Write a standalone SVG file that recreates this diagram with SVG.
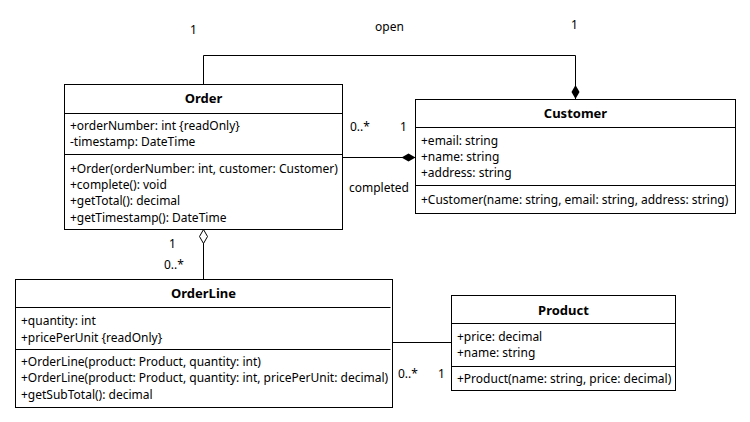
<svg xmlns="http://www.w3.org/2000/svg" width="750" height="422" viewBox="0 0 750 422">
<style>
text{font-family:"Noto Sans","DejaVu Sans",sans-serif;font-size:12px;fill:#000}
.t{font-weight:bold;text-anchor:middle;font-size:13px}
.box{fill:#fff;stroke:#000;stroke-width:1}
.ln{stroke:#000;stroke-width:1;fill:none}
</style>
<defs>
<marker id="fd" markerWidth="16" markerHeight="10" refX="15" refY="5" orient="auto" markerUnits="userSpaceOnUse"><path d="M1,5 L8,1 L15,5 L8,9 Z" fill="#000"/></marker>
<marker id="od" markerWidth="16" markerHeight="10" refX="15" refY="5" orient="auto" markerUnits="userSpaceOnUse"><path d="M1,5 L8,1 L15,5 L8,9 Z" fill="#fff" stroke="#000"/></marker>
</defs>
<rect width="750" height="422" fill="#fff"/>
<g id="connectors">
<path class="ln" d="M203.5,84.5 V55.5 H575.5 V99" marker-end="url(#fd)"/>
<path class="ln" d="M342.5,157.5 H415.5" marker-end="url(#fd)"/>
<path class="ln" d="M203.5,279.5 V229.5" marker-end="url(#od)"/>
<path class="ln" d="M392.5,342.5 H451.5"/>
<text x="190" y="34">1</text>
<text x="375" y="31">open</text>
<text x="571" y="29">1</text>
<text x="350" y="131">0..*</text>
<text x="400" y="131">1</text>
<text x="349" y="192">completed</text>
<text x="169" y="248">1</text>
<text x="164" y="269">0..*</text>
<text x="398" y="378">0..*</text>
<text x="438" y="378">1</text>
</g>
<g id="Order">
<rect class="box" x="64.5" y="84.5" width="278" height="145"/>
<path class="ln" d="M64.5,113.5 H342.5 M64.5,154.5 H342.5"/>
<text class="t" x="203.5" y="103">Order</text>
<text x="70" y="130">+orderNumber: int {readOnly}</text>
<text x="70" y="146">-timestamp: DateTime</text>
<text x="70" y="173">+Order(orderNumber: int, customer: Customer)</text>
<text x="70" y="189">+complete(): void</text>
<text x="70" y="205">+getTotal(): decimal</text>
<text x="70" y="222">+getTimestamp(): DateTime</text>
</g>
<g id="Customer">
<rect class="box" x="415.5" y="99.5" width="320" height="114"/>
<path class="ln" d="M415.5,127.5 H735.5 M415.5,185.5 H735.5"/>
<text class="t" x="575.5" y="118">Customer</text>
<text x="421" y="145">+email: string</text>
<text x="421" y="161">+name: string</text>
<text x="421" y="177">+address: string</text>
<text x="421" y="204">+Customer(name: string, email: string, address: string)</text>
</g>
<g id="OrderLine">
<rect class="box" x="15.5" y="279.5" width="377" height="128"/>
<path class="ln" d="M15.5,307.5 H390.5 M15.5,349.5 H390.5"/>
<text class="t" x="203.5" y="298">OrderLine</text>
<text x="21" y="325">+quantity: int</text>
<text x="21" y="342">+pricePerUnit {readOnly}</text>
<text x="21" y="366">+OrderLine(product: Product, quantity: int)</text>
<text x="21" y="382">+OrderLine(product: Product, quantity: int, pricePerUnit: decimal)</text>
<text x="21" y="399">+getSubTotal(): decimal</text>
</g>
<g id="Product">
<rect class="box" x="451.5" y="295.5" width="224" height="95"/>
<path class="ln" d="M451.5,323.5 H675.5 M451.5,366.5 H675.5"/>
<text class="t" x="563.5" y="315">Product</text>
<text x="457" y="341">+price: decimal</text>
<text x="457" y="357">+name: string</text>
<text x="457" y="383">+Product(name: string, price: decimal)</text>
</g>
</svg>
